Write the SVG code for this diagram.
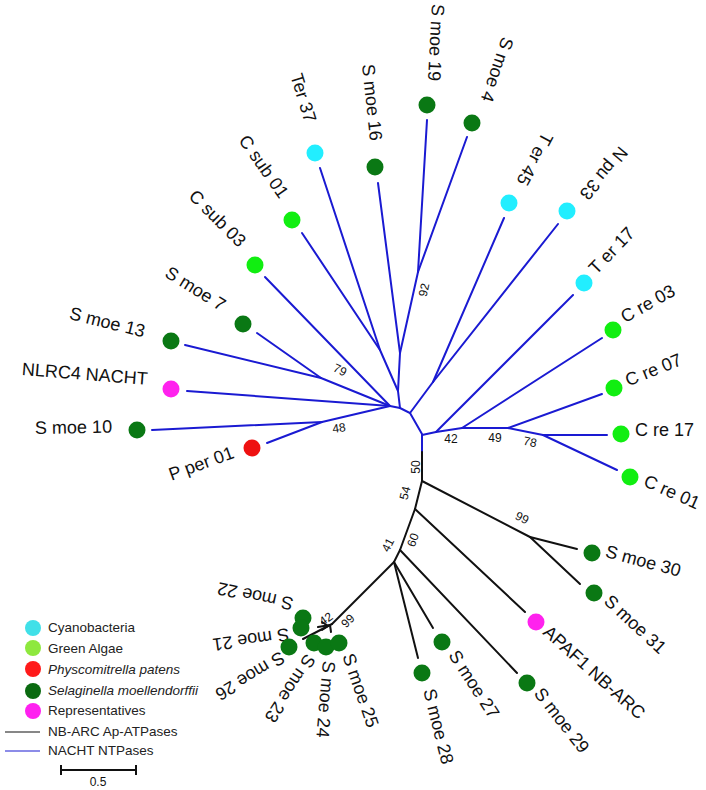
<svg xmlns="http://www.w3.org/2000/svg" width="706" height="790" viewBox="0 0 706 790">
<style>
.b{stroke:#1a1ad2;stroke-width:2;fill:none;stroke-linecap:round}
.k{stroke:#111;stroke-width:2;fill:none;stroke-linecap:round}
.t{font-family:"Liberation Sans",Arial,sans-serif;font-size:18px;fill:#111;dominant-baseline:central}
.n{font-family:"Liberation Sans",Arial,sans-serif;font-size:12px;fill:#111;text-anchor:middle;dominant-baseline:central}
.lg{font-family:"Liberation Sans",Arial,sans-serif;font-size:13.5px;fill:#222;dominant-baseline:central}
.cy{fill:#22eeff}.ga{fill:#11ee11}.pp{fill:#ee1111}.sm{fill:#0a7814}.rp{fill:#ff22ee}
</style>
<rect width="706" height="790" fill="#fff"/>
<g id="connectors">
<!-- NACHT clade (blue) -->
<polyline class="b" points="320,168 380,350"/>
<polyline class="b" points="302,233 380,350"/>
<polyline class="b" points="380,350 398,391"/>
<polyline class="b" points="378,183 400,353"/>
<polyline class="b" points="427,120 418,272"/>
<polyline class="b" points="467,137 418,272"/>
<polyline class="b" points="418,272 400,353"/>
<polyline class="b" points="400,353 398,391 400,408"/>
<polyline class="b" points="265,277 390,406"/>
<polyline class="b" points="257,333 321,378"/>
<polyline class="b" points="185,345 321,378"/>
<polyline class="b" points="321,378 390,406"/>
<polyline class="b" points="187,391 390,406"/>
<polyline class="b" points="152,430 322,422"/>
<polyline class="b" points="267,443 322,422"/>
<polyline class="b" points="322,422 390,406"/>
<polyline class="b" points="390,406 400,408"/>
<polyline class="b" points="400,408 410,413 422,434"/>
<polyline class="b" points="504,218 433,382"/>
<polyline class="b" points="558,224 433,382"/>
<polyline class="b" points="433,382 410,413"/>
<polyline class="b" points="422,435 436,432"/>
<polyline class="b" points="436,432 573,295"/>
<polyline class="b" points="436,432 462,428 508,428 543,435"/>
<polyline class="b" points="462,428 602,338"/>
<polyline class="b" points="508,428 602,394"/>
<polyline class="b" points="543,435 607,435"/>
<polyline class="b" points="543,435 617,470"/>
<polyline class="b" points="422,435 422,452"/>
<!-- NB-ARC clade (black) -->
<polyline class="k" points="422,452 422,481"/>
<polyline class="k" points="422,481 530,537"/>
<polyline class="k" points="530,537 577,549"/>
<polyline class="k" points="530,537 580,584"/>
<polyline class="k" points="422,481 415,509"/>
<polyline class="k" points="415,509 525,612"/>
<polyline class="k" points="415,509 400,550"/>
<polyline class="k" points="400,550 517,673"/>
<polyline class="k" points="400,550 394,562"/>
<polyline class="k" points="394,562 433,628"/>
<polyline class="k" points="394,562 418,658"/>
<polyline class="k" points="394,562 332,624"/>
<polyline class="k" points="332,624 303,639"/>
<polyline class="k" points="330,625 318,627"/>
<polyline class="k" points="322,622 328,626 322,630"/>
<polyline class="k" points="330,625 331,632"/>
</g>
<g id="support">
<text class="n" transform="translate(424,290) rotate(-78)">92</text>
<text class="n" transform="translate(340,370) rotate(25)">79</text>
<text class="n" transform="translate(339,428) rotate(-8)">48</text>
<text class="n" transform="translate(451,439)">42</text>
<text class="n" transform="translate(495,438)">49</text>
<text class="n" transform="translate(530,442) rotate(12)">78</text>
<text class="n" transform="translate(416,467) rotate(-90)">50</text>
<text class="n" transform="translate(405,493) rotate(-76)">54</text>
<text class="n" transform="translate(413,540) rotate(-70)">60</text>
<text class="n" transform="translate(388,545) rotate(-63)">41</text>
<text class="n" transform="translate(522,518) rotate(27)">99</text>
<text class="n" transform="translate(326,619) rotate(-35)">42</text>
<text class="n" transform="translate(348,621) rotate(-45)">99</text>
</g>
<g id="ter37"><circle class="cy" cx="315" cy="153" r="8.5"/><text class="t" transform="translate(296,74) rotate(73)">Ter 37</text></g>
<g id="csub01"><circle class="ga" cx="292" cy="220" r="8.5"/><text class="t" transform="translate(243,137) rotate(55)">C sub 01</text></g>
<g id="csub03"><circle class="ga" cx="255" cy="265" r="8.5"/><text class="t" transform="translate(192,193) rotate(45)">C sub 03</text></g>
<g id="smoe16"><circle class="sm" cx="375" cy="167" r="8.5"/><text class="t" transform="translate(368,64) rotate(84)">S moe 16</text></g>
<g id="smoe19"><circle class="sm" cx="427" cy="105" r="8.5"/><text class="t" transform="translate(438,4) rotate(93)">S moe 19</text></g>
<g id="smoe4"><circle class="sm" cx="472" cy="123" r="8.5"/><text class="t" transform="translate(508,38) rotate(109)">S moe 4</text></g>
<g id="ter45"><circle class="cy" cx="509" cy="203" r="8.5"/><text class="t" transform="translate(548,134) rotate(118)">T er 45</text></g>
<g id="npu33"><circle class="cy" cx="567" cy="211" r="8.5"/><text class="t" transform="translate(624,149) rotate(130)">N pu 33</text></g>
<g id="ter17"><circle class="cy" cx="584" cy="283" r="8.5"/><text class="t" transform="translate(592,271) rotate(-46)">T er 17</text></g>
<g id="cre03"><circle class="ga" cx="613" cy="330" r="8.5"/><text class="t" transform="translate(622,318) rotate(-29)">C re 03</text></g>
<g id="cre07"><circle class="ga" cx="614" cy="388" r="8.5"/><text class="t" transform="translate(626,381) rotate(-22)">C re 07</text></g>
<g id="cre17"><circle class="ga" cx="621" cy="434" r="8.5"/><text class="t" transform="translate(635,430)">C re 17</text></g>
<g id="cre01"><circle class="ga" cx="630" cy="477" r="8.5"/><text class="t" transform="translate(645,480) rotate(24)">C re 01</text></g>
<g id="smoe7"><circle class="sm" cx="243" cy="324" r="8.5"/><text class="t" transform="translate(167,271) rotate(32)">S moe 7</text></g>
<g id="smoe13"><circle class="sm" cx="171" cy="341" r="8.5"/><text class="t" transform="translate(70,313) rotate(14)">S moe 13</text></g>
<g id="nlrc4"><circle class="rp" cx="171" cy="389" r="8.5"/><text class="t" transform="translate(22,369) rotate(4.5)">NLRC4 NACHT</text></g>
<g id="smoe10"><circle class="sm" cx="137" cy="430" r="8.5"/><text class="t" transform="translate(35,428) rotate(-1)">S moe 10</text></g>
<g id="pper01"><circle class="pp" cx="252" cy="448" r="8.5"/><text class="t" text-anchor="end" transform="translate(233,452) rotate(-20)">P per 01</text></g>
<g id="smoe30"><circle class="sm" cx="592" cy="553" r="8.5"/><text class="t" transform="translate(606,551) rotate(15)">S moe 30</text></g>
<g id="smoe31"><circle class="sm" cx="594" cy="593" r="8.5"/><text class="t" transform="translate(607,598) rotate(43)">S moe 31</text></g>
<g id="apaf1"><circle class="rp" cx="536" cy="622" r="8.5"/><text class="t" transform="translate(546,629) rotate(42)">APAF1 NB-ARC</text></g>
<g id="smoe29"><circle class="sm" cx="527" cy="683" r="8.5"/><text class="t" transform="translate(538,690) rotate(52)">S moe 29</text></g>
<g id="smoe27"><circle class="sm" cx="442" cy="642" r="8.5"/><text class="t" transform="translate(453,652) rotate(57)">S moe 27</text></g>
<g id="smoe28"><circle class="sm" cx="422" cy="673" r="8.5"/><text class="t" transform="translate(429,689) rotate(76)">S moe 28</text></g>
<g id="smoe22"><circle class="sm" cx="303" cy="618" r="8.5"/><text class="t" transform="translate(293,604) rotate(192)">S moe 22</text></g>
<g id="smoe21"><circle class="sm" cx="301" cy="628" r="8.5"/><text class="t" transform="translate(289,634) rotate(172)">S moe 21</text></g>
<g id="smoe26"><circle class="sm" cx="289" cy="647" r="8.5"/><text class="t" transform="translate(283,656) rotate(149)">S moe 26</text></g>
<g id="smoe23"><circle class="sm" cx="314" cy="643" r="8.5"/><text class="t" transform="translate(311,656) rotate(123)">S moe 23</text></g>
<g id="smoe24"><circle class="sm" cx="326" cy="647" r="8.5"/><text class="t" transform="translate(329,661) rotate(95)">S moe 24</text></g>
<g id="smoe25"><circle class="sm" cx="339" cy="643" r="8.5"/><text class="t" transform="translate(348,654) rotate(71)">S moe 25</text></g>
<g id="legend">
<circle cx="33" cy="628" r="8" fill="#40e0e8"/><text class="lg" x="48" y="627">Cyanobacteria</text>
<circle cx="33" cy="648" r="8" fill="#8ee83e"/><text class="lg" x="48" y="648">Green Algae</text>
<circle cx="33" cy="669" r="8" fill="#ff1a1a"/><text class="lg" x="48" y="669" font-style="italic">Physcomitrella patens</text>
<circle cx="33" cy="691" r="8" fill="#0a6a10"/><text class="lg" x="48" y="690" font-style="italic">Selaginella moellendorffii</text>
<circle cx="33" cy="711" r="8" fill="#ff20f0"/><text class="lg" x="48" y="710">Representatives</text>
<line x1="5" y1="732" x2="40" y2="732" stroke="#111" stroke-width="1.2"/><text class="lg" x="48" y="731">NB-ARC Ap-ATPases</text>
<line x1="5" y1="751" x2="40" y2="751" stroke="#1a1ad2" stroke-width="1.2"/><text class="lg" x="48" y="750">NACHT NTPases</text>
<g id="scale" stroke="#111" stroke-width="2"><line x1="61" y1="770" x2="136" y2="770"/><line x1="61" y1="765" x2="61" y2="775"/><line x1="136" y1="765" x2="136" y2="775"/></g>
<text class="n" x="98" y="782" font-size="11">0.5</text>
</g>
</svg>
